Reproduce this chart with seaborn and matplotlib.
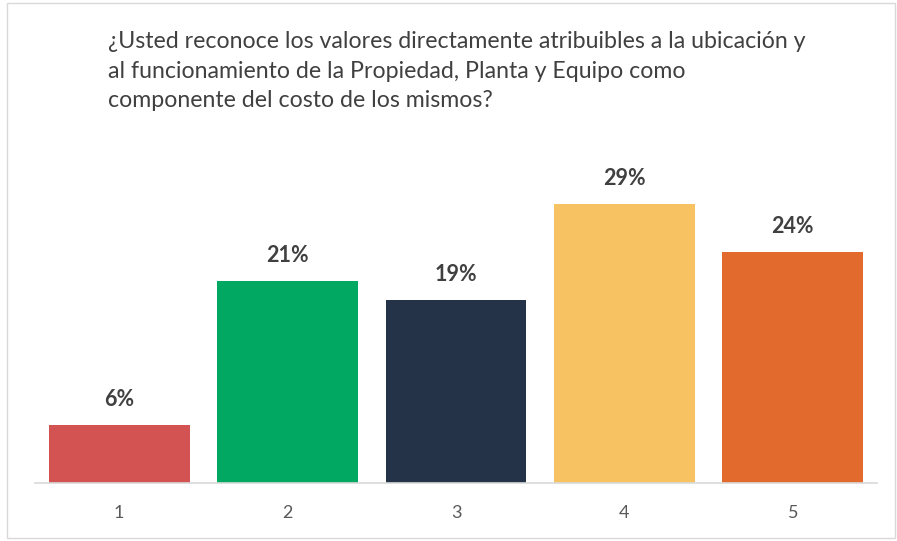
import matplotlib
matplotlib.use("Agg")
import matplotlib.pyplot as plt
import seaborn as sns
import pandas as pd
from matplotlib.patches import Rectangle

categories = ["1", "2", "3", "4", "5"]
values = [6, 21, 19, 29, 24]
labels = ["6%", "21%", "19%", "29%", "24%"]
colors = ["#D35252", "#00A862", "#253349", "#F6C262", "#E26A2C"]
title_lines = ["¿Usted reconoce los valores directamente atribuibles a la ubicación y",
               "al funcionamiento de la Propiedad, Planta y Equipo como",
               "componente del costo de los mismos?"]

sns.set_theme(style="white")
plt.rcParams["font.family"] = ["Lato", "DejaVu Sans"]

W, H = 897, 541
fig = plt.figure(figsize=(W / 100, H / 100), dpi=100)
fig.patch.set_facecolor("white")

# axes: x from 35 to 877 px, y from 170 to 483 px
ax = fig.add_axes([35 / W, 1 - 483 / H, (877 - 35) / W, (483 - 170) / H])
df = pd.DataFrame({"cat": categories, "val": values})
sns.barplot(data=df, x="cat", y="val", hue="cat", palette=colors, legend=False,
            width=0.835, saturation=1, ax=ax, edgecolor="none")
ax.set_xlim(-0.5, 4.5)
ax.set_ylim(0, 313 / 9.63)
for s in ["top", "right", "left"]:
    ax.spines[s].set_visible(False)
ax.spines["bottom"].set_color("#D9D9D9")
ax.spines["bottom"].set_linewidth(1.2)
ax.set_yticks([])
ax.set_xlabel("")
ax.set_ylabel("")
ax.tick_params(axis="x", length=0, pad=16, labelsize=13, labelcolor="#595959")

for i, (v, lab) in enumerate(zip(values, labels)):
    ax.annotate(lab, (i, v), xytext=(0, 18.5), textcoords="offset points",
                ha="center", va="center", fontsize=15.5, fontweight="bold",
                color="#404040")

for yb, line in zip([48, 78, 107], title_lines):
    fig.text(108 / W, 1 - yb / H, line, ha="left", va="baseline", fontsize=16.7,
             color="#404040")

fig.patches.append(Rectangle((7 / W, 1 - 538 / H), (895 - 7) / W, (538 - 3) / H,
                             transform=fig.transFigure, fill=False,
                             edgecolor="#D9D9D9", linewidth=1.0))

fig.savefig("out.png", dpi=100, facecolor="white")
